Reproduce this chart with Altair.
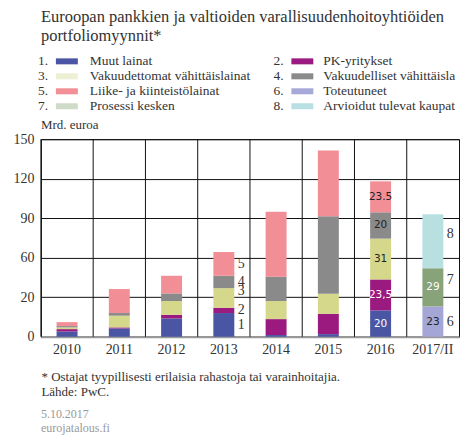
import altair as alt
import pandas as pd

# ---------------- data ----------------
years = ["2010", "2011", "2012", "2013", "2014", "2015", "2016", "2017/II"]

series_names = [
    "Muut lainat",
    "PK-yritykset",
    "Vakuudettomat vähittäislainat",
    "Vakuudelliset vähittäislainat",
    "Liike- ja kiinteistölainat",
    "Toteutuneet",
    "Prosessi kesken",
    "Arvioidut tulevat kaupat",
]
bar_colors = ["#4a55a3", "#9b1a80", "#d5d88b", "#8a8a8a",
              "#f28e96", "#a4a6d6", "#88a37a", "#b8e0e0"]
legend_colors = ["#4a55a3", "#9b1a80", "#eef0d5", "#8a8a8a",
                 "#f28e96", "#a6a8d8", "#d0dac9", "#b8e0e2"]

muut_lainat = [4.0, 6.3, 13.9, 18.0, 1.3, 2.0, 20.0, 0]
pk_yritykset = [1.8, 0.8, 2.8, 4.0, 12.1, 15.4, 23.5, 0]
vakuudettomat = [1.3, 8.9, 10.4, 14.9, 13.7, 15.2, 31.0, 0]
vakuudelliset = [1.0, 2.0, 5.8, 9.4, 18.5, 58.9, 20.0, 0]
liike = [3.0, 18.2, 13.4, 18.0, 49.3, 50.0, 23.5, 0]
toteutuneet = [0, 0, 0, 0, 0, 0, 0, 23.0]
prosessi = [0, 0, 0, 0, 0, 0, 0, 29.0]
arvioidut = [0, 0, 0, 0, 0, 0, 0, 41.0]
all_series = [muut_lainat, pk_yritykset, vakuudettomat, vakuudelliset,
              liike, toteutuneet, prosessi, arvioidut]

y_tick_values = [0, 30, 60, 90, 120, 150]
y_tick_labels = ["0", "20", "60", "90", "120", "150"]

# labels written inside the 2016 and 2017/II bars (year, series index, text)
inside_labels = [
    ("2016", 0, "20"), ("2016", 1, "23,5"), ("2016", 2, "31"),
    ("2016", 3, "20"), ("2016", 4, "23.5"),
    ("2017/II", 5, "23"), ("2017/II", 6, "29"),
]
white_text_series = [0, 1, 6]
# number labels beside the bars (year, series index, text)
side_labels = [
    ("2013", 0, "1"), ("2013", 1, "2"), ("2013", 2, "3"),
    ("2013", 3, "4"), ("2013", 4, "5"),
    ("2017/II", 5, "6"), ("2017/II", 6, "7"), ("2017/II", 7, "8"),
]
raised_side = ["3", "7", "8"]

title_lines = ["Euroopan pankkien ja valtioiden varallisuudenhoitoyhtiöiden",
               "portfoliomyynnit*"]
foot_lines = ["* Ostajat tyypillisesti erilaisia rahastoja tai varainhoitajia.",
              "Lähde: PwC."]
date_lines = ["5.10.2017", "eurojatalous.fi"]
unit_text = "Mrd. euroa"

SERIF = "Liberation Serif"
TXT = "#333333"
GRID = "#111111"

# ---------------- frames ----------------
rows = []
for si, (name, vals) in enumerate(zip(series_names, all_series)):
    for yr, v in zip(years, vals):
        if v > 0:
            rows.append({"year": yr, "series": name, "order": si, "value": v})
bars_df = pd.DataFrame(rows)


def mid(year, si):
    yi = years.index(year)
    below = sum(all_series[k][yi] for k in range(si))
    return below + all_series[si][yi] / 2.0


inside_df = pd.DataFrame([
    {"year": yr, "value": mid(yr, si), "text": t,
     "white": si in white_text_series}
    for yr, si, t in inside_labels
])
side_df = pd.DataFrame([
    {"year": yr, "value": mid(yr, si), "text": t, "raised": t in raised_side}
    for yr, si, t in side_labels
])
years_df = pd.DataFrame({"year": years})

legend_df = pd.DataFrame([
    {"num": f"{i + 1}.", "name": n, "col": i % 2, "row": i // 2,
     "color": legend_colors[i]}
    for i, n in enumerate(series_names)
])

PLOT_W = 419

# ---------------- legend chart ----------------
lx = alt.X("col:Q", axis=None,
           scale=alt.Scale(domain=[0, 1], range=[-3, 233], nice=False,
                           zero=False))
ly = alt.Y("row:Q", axis=None,
           scale=alt.Scale(domain=[0, 3], range=[0, 45], nice=False))
leg_base = alt.Chart(legend_df)
leg_num = leg_base.mark_text(align="left", baseline="middle", font=SERIF,
                             fontSize=13.5, color=TXT).encode(
    x=lx, y=ly, text="num:N")
leg_sw = leg_base.mark_rect(width=22, height=6, xOffset=29).encode(
    x=lx, y=ly, color=alt.Color("color:N", scale=None))
leg_lab0 = leg_base.transform_filter("datum.col == 0").mark_text(
    align="left", baseline="middle", font=SERIF, fontSize=13.5, color=TXT,
    dx=52).encode(x=lx, y=ly, text="name:N")
leg_lab1 = leg_base.transform_filter("datum.col == 1").mark_text(
    align="left", baseline="middle", font=SERIF, fontSize=13.5, color=TXT,
    dx=50, limit=136, ellipsis=" ").encode(x=lx, y=ly, text="name:N")
legend_chart = alt.layer(leg_num, leg_sw, leg_lab0, leg_lab1).properties(
    width=PLOT_W, height=45,
    title=alt.TitleParams(title_lines, anchor="start", font=SERIF,
                          fontSize=16.5, fontWeight="normal", color=TXT,
                          lineHeight=19, offset=10, frame="group"),
)

# ---------------- main chart ----------------
xaxis = alt.Axis(title=foot_lines, titleAnchor="start",
                 titleAlign="left", titleFont=SERIF,
                 titleFontSize=13, titleFontWeight="normal",
                 titleColor=TXT, titleLineHeight=15,
                 titlePadding=14,
                 labelAngle=0, labelFont=SERIF, labelFontSize=14,
                 labelColor=TXT, labelPadding=6,
                 ticks=False, grid=False,
                 domainColor="#999999", domainWidth=2)
xscale = alt.Scale(domain=years, paddingInner=0, paddingOuter=0)
xenc = alt.X("year:N", sort=years, scale=xscale, axis=xaxis)

yscale = alt.Scale(domain=[0, 150], nice=False)
yaxis = alt.Axis(values=y_tick_values, title=None,
                 labelExpr="[" + ",".join(f"'{t}'" for t in y_tick_labels)
                 + "][indexof(" + str(y_tick_values) + ", datum.value)]",
                 labelFont=SERIF, labelFontSize=14, labelColor=TXT,
                 labelPadding=7, ticks=False, domain=False,
                 labelOverlap=False,
                 grid=True, gridColor=GRID, gridWidth=1)

vlines = alt.Chart(years_df).mark_rule(color=GRID, strokeWidth=1).encode(
    x=alt.X("year:N", sort=years, scale=xscale, axis=xaxis, bandPosition=0),
)

bars = alt.Chart(bars_df).mark_bar(width=21).encode(
    x=xenc,
    y=alt.Y("value:Q", stack="zero", scale=yscale, axis=yaxis),
    color=alt.Color("series:N", scale=alt.Scale(domain=series_names,
                                                range=bar_colors),
                    legend=None),
    order=alt.Order("order:Q", sort="ascending"),
)

inside = alt.Chart(inside_df).mark_text(
    font="DejaVu Sans", fontSize=10.5, baseline="middle").encode(
    x=xenc,
    y=alt.Y("value:Q", scale=yscale, axis=yaxis),
    text="text:N",
    color=alt.condition("datum.white", alt.value("#ffffff"),
                        alt.value("#222222")),
)

side_base = alt.Chart(side_df)
side_plain = side_base.transform_filter("!datum.raised").mark_text(
    font=SERIF, fontSize=14, color=TXT, align="left", baseline="middle",
    dx=14).encode(
    x=xenc, y=alt.Y("value:Q", scale=yscale, axis=yaxis), text="text:N")
side_raised = side_base.transform_filter("datum.raised").mark_text(
    font=SERIF, fontSize=14, color=TXT, align="left", baseline="middle",
    dx=14, dy=-7).encode(
    x=xenc, y=alt.Y("value:Q", scale=yscale, axis=yaxis), text="text:N")

main_chart = alt.layer(vlines, bars, inside, side_plain,
                       side_raised).properties(
    width=PLOT_W, height=198,
    view=alt.ViewBackground(stroke=GRID, strokeWidth=1),
    title=alt.TitleParams(unit_text, anchor="start", font=SERIF, fontSize=13,
                          fontWeight="normal", color=TXT, offset=0,
                          frame="group"),
)

chart = alt.vconcat(legend_chart, main_chart, spacing=5).properties(
    title=alt.TitleParams(date_lines, orient="bottom", anchor="start",
                          font=SERIF, fontSize=12, fontWeight="normal",
                          color="#999999", lineHeight=14, offset=10,
                          frame="group"),
    padding={"left": 4, "top": 0, "right": 0, "bottom": 0},
).configure(font=SERIF).configure_view(strokeWidth=0)

chart.save("out.html", embed_options={"renderer": "svg", "actions": False})
